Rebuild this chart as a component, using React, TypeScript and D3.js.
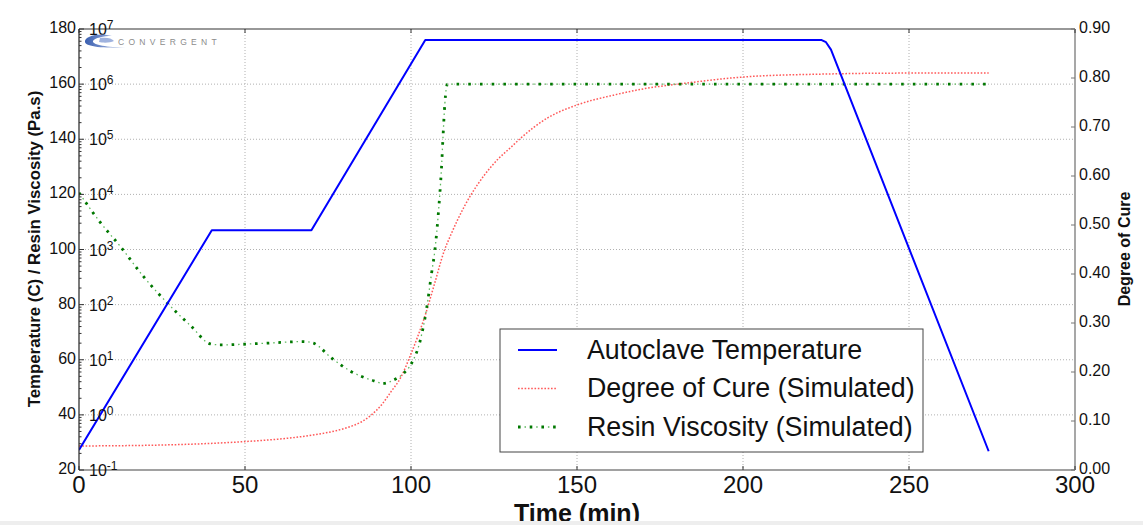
import React from "react";
import * as d3 from "d3";

// ---- data ----
const xTicks = [0, 50, 100, 150, 200, 250, 300];
const tempTicks = [20, 40, 60, 80, 100, 120, 140, 160, 180];
const logExps = [-1, 0, 1, 2, 3, 4, 5, 6, 7];
const cureTicks = [0, 0.1, 0.2, 0.3, 0.4, 0.5, 0.6, 0.7, 0.8, 0.9];

const tempTime = [0, 40, 70, 104.3, 223.7, 225, 226.5, 274];
const tempValues = [27.3, 107, 107, 176, 176, 175.2, 172.5, 26.8];

const cureTime = [0, 25, 50, 60, 70, 80, 85, 88, 91, 94, 97, 100, 102, 104, 107, 110, 112, 114, 116, 118, 120, 122, 124, 126, 130, 133, 141, 150, 161, 171, 181, 200, 224, 250, 274];
const cureValues = [0.049, 0.051, 0.058, 0.063, 0.071, 0.085, 0.098, 0.112, 0.132, 0.16, 0.19, 0.237, 0.272, 0.31, 0.378, 0.447, 0.48, 0.51, 0.537, 0.561, 0.582, 0.601, 0.618, 0.633, 0.658, 0.677, 0.718, 0.745, 0.765, 0.779, 0.788, 0.802, 0.808, 0.81, 0.81];

const viscTime = [0, 6.3, 12.8, 19.4, 26.4, 33.9, 39.5, 42.5, 56.5, 67.6, 70.6, 76.1, 81.6, 88.2, 91.7, 94.7, 97.7, 100.2, 102.7, 104.7, 106.2, 107.2, 108.2, 109.2, 109.7, 110.2, 111, 274];
const viscValues = [10700, 3160, 1070, 324, 110, 39.8, 19.5, 18.6, 20.0, 21.4, 20.0, 10.7, 6.3, 4.27, 3.72, 4.27, 5.62, 8.7, 21.4, 85, 372, 977, 4270, 31600, 129000, 447000, 1000000, 1000000];

const legendLabels = ["Autoclave Temperature", "Degree of Cure (Simulated)", "Resin Viscosity (Simulated)"];

const W = 1143, H = 525;
const L = 79, R = 1075, T = 29, B = 470;

export default function App() {
  const x = d3.scaleLinear().domain([0, 300]).range([L, R]);
  const yT = d3.scaleLinear().domain([20, 180]).range([B, T]);
  const yLog = d3.scaleLog().domain([0.1, 1e7]).range([B, T]);
  const yR = d3.scaleLinear().domain([0, 0.9]).range([B, T]);

  const tempLine = d3.line<number>().x((_, i) => x(tempTime[i])).y((d) => yT(d));
  const cureLine = d3.line<number>().x((_, i) => x(cureTime[i])).y((d) => yR(d)).curve(d3.curveMonotoneX);
  const viscLine = d3.line<number>().x((_, i) => x(viscTime[i])).y((d) => yLog(d)).curve(d3.curveMonotoneX);

  const minorLog: number[] = [];
  for (let e = -1; e < 7; e++) for (let m = 2; m <= 9; m++) minorLog.push(m * Math.pow(10, e));

  const font = "'Liberation Sans', Arial, sans-serif";
  const tempPath = tempLine(tempValues) || "";
  const curePath = cureLine(cureValues) || "";
  const viscPath = viscLine(viscValues) || "";

  const legX = 500, legY = 329, legW = 423, legH = 123;
  const rowY = [350, 388.5, 427];

  return (
    <svg width={W} height={H} style={{ position: "absolute", left: 0, top: 0, fontFamily: font }}>
      <defs>
        <clipPath id="plot">
          <rect x={L} y={T} width={R - L} height={B - T} />
        </clipPath>
        <linearGradient id="logoG" x1="0" y1="0" x2="1" y2="0">
          <stop offset="0" stopColor="#3a5fb0" />
          <stop offset="0.5" stopColor="#7f98d0" />
          <stop offset="1" stopColor="#e4eaf6" />
        </linearGradient>
      </defs>
      <rect x={0} y={0} width={W} height={H} fill="#fff" />

      {/* grid */}
      <g stroke="#b0b0b0" strokeWidth={1} strokeDasharray="1,2">
        {xTicks.slice(1, -1).map((t) => (
          <line key={"gx" + t} x1={x(t)} x2={x(t)} y1={T} y2={B} />
        ))}
        {tempTicks.slice(1, -1).map((t) => (
          <line key={"gy" + t} x1={L} x2={R} y1={yT(t)} y2={yT(t)} />
        ))}
      </g>

      {/* series */}
      <g clipPath="url(#plot)" fill="none">
        <path d={curePath} stroke="#ff3b3b" strokeOpacity={0.85} strokeWidth={1.5} strokeDasharray="1.6,1.7" />
        <path d={viscPath} stroke="#5fb85f" strokeWidth={1.3} strokeDasharray="1.5,10.2" strokeDashoffset={-6.5} />
        <path d={viscPath} stroke="#007800" strokeWidth={2.8} strokeDasharray="2.6,9.1" />
        <path d={tempPath} stroke="#0000ff" strokeWidth={2} strokeLinejoin="round" />
      </g>

      {/* spines */}
      <line x1={L} x2={R} y1={T} y2={T} stroke="#333" strokeWidth={1.2} />
      <line x1={L} x2={R} y1={B} y2={B} stroke="#444" strokeWidth={1.2} />
      <line x1={L} x2={L} y1={T} y2={B} stroke="#222" strokeWidth={1.2} />
      <line x1={R} x2={R} y1={T} y2={B} stroke="#8a8a8a" strokeWidth={1.5} />

      {/* ticks */}
      <g stroke="#333" strokeWidth={1}>
        {xTicks.map((t) => (
          <g key={"xt" + t}>
            <line x1={x(t)} x2={x(t)} y1={B} y2={B - 4} />
            <line x1={x(t)} x2={x(t)} y1={T} y2={T + 4} />
          </g>
        ))}
        {tempTicks.map((t) => (
          <line key={"lt" + t} x1={L} x2={L + 5} y1={yT(t)} y2={yT(t)} />
        ))}
        {minorLog.map((v, i) => (
          <line key={"ml" + i} x1={L} x2={L + 2.5} y1={yLog(v)} y2={yLog(v)} />
        ))}
        {cureTicks.map((t) => (
          <line key={"rt" + t} x1={R} x2={R - 4} y1={yR(t)} y2={yR(t)} stroke="#777" />
        ))}
      </g>

      {/* tick labels */}
      <g fontSize={24} fill="#111" textAnchor="middle">
        {xTicks.map((t) => (
          <text key={"xl" + t} x={x(t)} y={493}>{t}</text>
        ))}
      </g>
      <g fontSize={16} fill="#111" textAnchor="end">
        {tempTicks.map((t) => (
          <text key={"tl" + t} x={76} y={yT(t) + 4}>{t}</text>
        ))}
      </g>
      <g fill="#111">
        {logExps.map((e) => (
          <text key={"le" + e} x={89} y={yLog(Math.pow(10, e)) + 6} fontSize={16}>
            10<tspan fontSize={12} dy={-6}>{e}</tspan>
          </text>
        ))}
      </g>
      <g fontSize={16} fill="#111">
        {cureTicks.map((t) => (
          <text key={"cl" + t} x={1079} y={yR(t) + 4}>{t.toFixed(2)}</text>
        ))}
      </g>

      {/* axis labels */}
      <text x={577} y={522} fontSize={25} fontWeight="bold" textAnchor="middle" fill="#111">Time (min)</text>
      <text transform="translate(40,249) rotate(-90)" fontSize={16.8} fontWeight="bold" textAnchor="middle" fill="#111">
        Temperature (C) / Resin Viscosity (Pa.s)
      </text>
      <text transform="translate(1130,249) rotate(-90)" fontSize={16} fontWeight="bold" textAnchor="middle" fill="#111">
        Degree of Cure
      </text>

      {/* legend */}
      <rect x={legX} y={legY} width={legW} height={legH} fill="#fff" stroke="#444" strokeWidth={1} />
      <line x1={518} x2={557} y1={rowY[0]} y2={rowY[0]} stroke="#0000ff" strokeWidth={2} />
      <line x1={518} x2={557} y1={rowY[1]} y2={rowY[1]} stroke="#ff3b3b" strokeOpacity={0.85} strokeWidth={1.5} strokeDasharray="1.6,1.7" />
      <line x1={518} x2={557} y1={rowY[2]} y2={rowY[2]} stroke="#5fb85f" strokeWidth={1.3} strokeDasharray="1.5,10.2" strokeDashoffset={-6.5} />
      <line x1={518} x2={557} y1={rowY[2]} y2={rowY[2]} stroke="#007800" strokeWidth={2.8} strokeDasharray="2.6,9.1" />
      <g fontSize={26.8} fill="#111">
        {legendLabels.map((s, i) => (
          <text key={s} x={587} y={rowY[i] + 8.5}>{s}</text>
        ))}
      </g>

      {/* logo */}
      <g>
        <path d="M 112 36 C 100 32, 84 36, 85 42 C 86 47, 104 48, 126 48 C 108 47, 92 45, 93 41 C 94 38, 104 36, 112 36 Z" fill="url(#logoG)" />
        <path d="M 100 38 C 106 37, 112 38, 114 41 C 110 43, 103 43, 99 42 Z" fill="#9fb2de" />
        <text x={118} y={45} fontSize={8.5} fill="#8c8c8c" letterSpacing={4.3}>CONVERGENT</text>
      </g>

      {/* bottom strip */}
      <rect x={0} y={521} width={W} height={4} fill="#eeeeee" />
    </svg>
  );
}
